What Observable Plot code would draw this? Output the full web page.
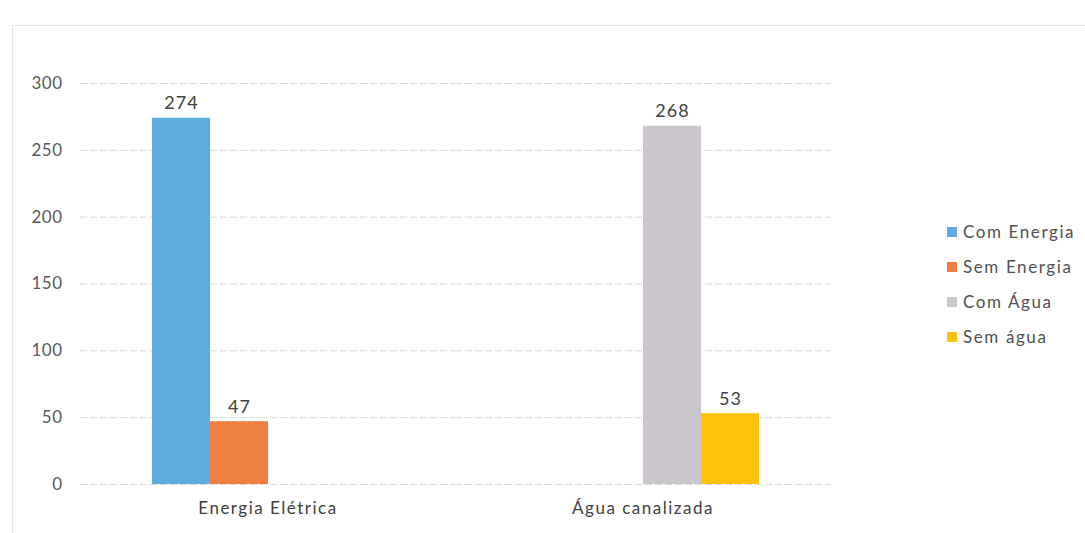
<!DOCTYPE html>
<html><head><meta charset="utf-8">
<script src="https://cdn.jsdelivr.net/npm/d3@7"></script>
<script src="https://cdn.jsdelivr.net/npm/@observablehq/plot@0.6"></script>
<style>
body{margin:0;background:#fff;font-family:Lato,"Open Sans",sans-serif;}
#wrap{position:relative;width:1085px;height:533px;overflow:hidden;}
#frame{position:absolute;left:12px;top:25px;width:1085px;height:520px;border:1px solid #e6e6e6;box-sizing:border-box;}
#chart{position:absolute;left:0;top:0;}
#legend{position:absolute;left:947px;top:214px;font-size:17px;letter-spacing:1.6px;color:#505050;}
#legend .item{display:flex;align-items:center;height:35px;}
#legend .sw{width:10px;height:10px;margin-right:6px;}
g[aria-label="fx-axis tick label"] text{letter-spacing:1.5px;}
g[aria-label="y-axis tick label"] text{letter-spacing:0.5px;}
g[aria-label="text"] text{letter-spacing:1px;}
</style>
</head><body>
<div id="wrap"><div id="frame"></div><div id="chart"></div><div id="legend"></div></div>
<script>
const categories = ["Energia Elétrica", "Água canalizada"];
const series = ["Com Energia", "Sem Energia", "Com Água", "Sem água"];
const barCategory = ["Energia Elétrica", "Energia Elétrica", "Água canalizada", "Água canalizada"];
const values = [274, 47, 268, 53];
const colors = ["#5eacdf", "#ef7e41", "#cbc6cb", "#ffc20a"];
const yTicks = [0, 50, 100, 150, 200, 250, 300];

const data = series.map((s, i) => ({series: s, category: barCategory[i], value: values[i]}));

const chart = Plot.plot({
  width: 1085,
  height: 533,
  marginLeft: 80,
  marginRight: 255,
  marginTop: 83,
  marginBottom: 49,
  style: {fontFamily: "Lato, 'Open Sans', sans-serif", background: "transparent"},
  fx: {domain: categories, padding: 0, label: null},
  x: {domain: series, paddingInner: 0, paddingOuter: 1.23, axis: null},
  y: {domain: [0, 300], label: null},
  color: {domain: series, range: colors},
  marks: [
    Plot.gridY(yTicks, {stroke: "#d9d9d9", strokeOpacity: 1, strokeDasharray: "7,3"}),
    Plot.axisY(yTicks, {tickSize: 0, tickPadding: 18, fontSize: 17, fill: "#595959", label: null}),
    Plot.axisFx({anchor: "bottom", tickSize: 0, tickPadding: 17, fontSize: 17, fill: "#404040", label: null}),
    Plot.barY(data, {fx: "category", x: "series", y: "value", fill: "series"}),
    Plot.text(data, {fx: "category", x: "series", y: "value", text: d => String(d.value), lineAnchor: "bottom", dy: -9, fontSize: 18, fill: "#404040"})
  ]
});
document.getElementById("chart").appendChild(chart);

const legend = document.getElementById("legend");
series.forEach((s, i) => {
  const item = document.createElement("div");
  item.className = "item";
  const sw = document.createElement("span");
  sw.className = "sw";
  sw.style.background = colors[i];
  const t = document.createElement("span");
  t.textContent = s;
  item.appendChild(sw); item.appendChild(t);
  legend.appendChild(item);
});
</script>
</body></html>
